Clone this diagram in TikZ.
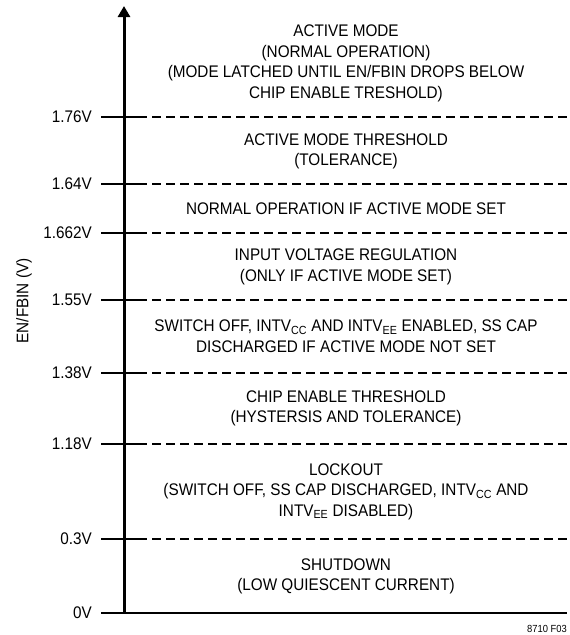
\documentclass[tikz,border=0pt]{standalone}
\usepackage{fontspec}
\setmainfont{Liberation Sans}[FakeStretch=0.91]
\usetikzlibrary{arrows.meta}
\tikzset{
    lvl/.style={anchor=east, inner sep=0pt,
        font=\fontsize{16.8}{20.5}\selectfont}, % voltage labels
    band/.style={align=center, inner sep=0pt,
        font=\fontsize{16.8}{20.5}\selectfont}, % text in each band
    tickline/.style={line width=2.2pt},
    sepline/.style={line width=2.2pt, dash pattern=on 9pt off 5pt},
    axisline/.style={line width=3pt, -{Triangle[width=12pt,length=11pt]}}
}

\begin{document}
\begin{tikzpicture}[x=1pt, y=-1pt]
    \useasboundingbox (0,0) rectangle (570,635);
    % achse
    \coordinate (origin) at (124,613);
    \coordinate (top)    at (124,6);
    % spannungen
    \node[lvl] (v176)  at (92,117) {1.76V};
    \node[lvl] (v164)  at (92,184) {1.64V};
    \node[lvl] (v1662) at (92,233) {1.662V};
    \node[lvl] (v155)  at (92,300) {1.55V};
    \node[lvl] (v138)  at (92,373) {1.38V};
    \node[lvl] (v118)  at (92,444) {1.18V};
    \node[lvl] (v03)   at (92,539) {0.3V};
    \node[lvl] (v0)    at (92,613) {0V};
    % linien
    \foreach \v/\yy in {176/117, 164/184, 1662/233, 155/300,
                        138/373, 118/444, 03/539} {
        \coordinate (a\v) at (101,\yy);
        \coordinate (b\v) at (138,\yy);
        \coordinate (c\v) at (567,\yy);
        \draw[tickline] (a\v) -- (b\v);
        \draw[sepline] (b\v) -- (c\v);
    }
    \coordinate (a0) at (101,613);
    \coordinate (c0) at (567,613);
    \draw[line width=2.5pt] (a0) -- (c0);
    \draw[axisline] (origin) -- (top);
    % texte
    \node[band] (active)   at (346,63.5)  {ACTIVE MODE\\(NORMAL OPERATION)\\(MODE LATCHED UNTIL EN/FBIN DROPS BELOW\\CHIP ENABLE TRESHOLD)};
    \node[band] (actthr)   at (346,151.5) {ACTIVE MODE THRESHOLD\\(TOLERANCE)};
    \node[band] (normal)   at (346,209)   {NORMAL OPERATION IF ACTIVE MODE SET};
    \node[band] (inreg)    at (346,267)   {INPUT VOLTAGE REGULATION\\(ONLY IF ACTIVE MODE SET)};
    \node[band] (swoff)    at (346,336)   {SWITCH OFF, INTV\textsubscript{CC} AND INTV\textsubscript{EE} ENABLED, SS CAP\\DISCHARGED IF ACTIVE MODE NOT SET};
    \node[band] (chipen)   at (346,408.5) {CHIP ENABLE THRESHOLD\\(HYSTERSIS AND TOLERANCE)};
    \node[band] (lockout)  at (346,491.5) {LOCKOUT\\(SWITCH OFF, SS CAP DISCHARGED, INTV\textsubscript{CC} AND\\INTV\textsubscript{EE} DISABLED)};
    \node[band] (shutdown) at (346,576.5) {SHUTDOWN\\(LOW QUIESCENT CURRENT)};
    % beschriftung
    \node[rotate=90, inner sep=0pt, font=\fontsize{16.8}{20}\selectfont] (ylabel) at (24,301) {EN/FBIN (V)};
    \node[anchor=east, inner sep=0pt, font=\fontsize{10.3}{12}\selectfont] (figno) at (567,629) {8710 F03};
\end{tikzpicture}
\end{document}
